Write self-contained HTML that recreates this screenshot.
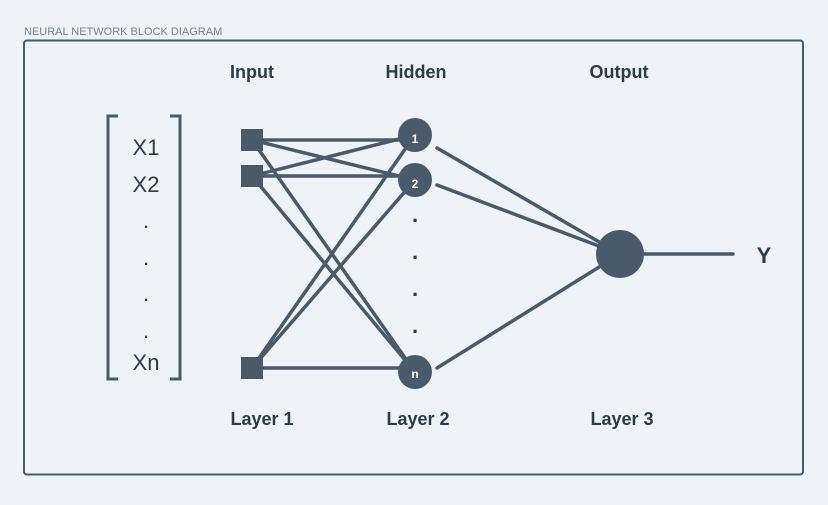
<!DOCTYPE html>
<html><head><style>
body{margin:0;background:#eff2f6;width:828px;height:500px;overflow:hidden}
</style></head><body>
<svg width="828" height="500" xmlns="http://www.w3.org/2000/svg" font-family="Liberation Sans, sans-serif">
<rect width="828" height="500" fill="#eff2f6"/>
<text x="24" y="35" font-size="11" fill="#7a8591">NEURAL NETWORK BLOCK DIAGRAM</text>
<rect x="24" y="40.5" width="779" height="434" rx="3" fill="none" stroke="#4a5a69" stroke-width="2"/>
<g font-weight="bold" font-size="18" fill="#2f3b47" text-anchor="middle">
<text x="252" y="78">Input</text><text x="416" y="78">Hidden</text><text x="619" y="78">Output</text>
<text x="262" y="425">Layer 1</text><text x="418" y="425">Layer 2</text><text x="622" y="425">Layer 3</text>
<text x="764" y="263" font-size="22">Y</text>
</g>
<g fill="none" stroke="#4a5a69" stroke-width="3">
<path d="M118 116H108V379H118M170 116H180V379H170"/>
</g>
<g font-size="22" fill="#2f3b47" text-anchor="middle">
<text x="146" y="155">X1</text><text x="146" y="192">X2</text>
<text x="146" y="228">.</text><text x="146" y="265">.</text><text x="146" y="301">.</text><text x="146" y="338">.</text>
<text x="146" y="370">Xn</text>
</g>
<g stroke="#4a5a69" stroke-width="3.5" stroke-linecap="round">
<line x1="252" y1="140" x2="415" y2="140"/><line x1="252" y1="140" x2="415" y2="180"/><line x1="252" y1="140" x2="415" y2="372"/>
<line x1="252" y1="176" x2="415" y2="135"/><line x1="252" y1="176" x2="415" y2="176"/><line x1="252" y1="176" x2="415" y2="372"/>
<line x1="252" y1="368" x2="415" y2="135"/><line x1="252" y1="368" x2="415" y2="180"/><line x1="252" y1="368" x2="415" y2="368"/>
<line x1="437" y1="148" x2="620" y2="254"/><line x1="437" y1="185" x2="620" y2="254"/><line x1="437" y1="368" x2="620" y2="254"/>
<line x1="620" y1="254" x2="733" y2="254"/>
</g>
<g fill="#4a5a69">
<rect x="241" y="129" width="22" height="22"/><rect x="241" y="165" width="22" height="22"/><rect x="241" y="357" width="22" height="22"/>
<circle cx="415" cy="135" r="17"/><circle cx="415" cy="180" r="17"/><circle cx="415" cy="372" r="17"/>
<circle cx="620" cy="254" r="24"/>
</g>
<g font-size="12" font-weight="bold" fill="#fff" text-anchor="middle">
<text x="415" y="143">1</text><text x="415" y="188">2</text><text x="415" y="378">n</text>
</g>
<g font-size="22" font-weight="bold" fill="#2f3b47" text-anchor="middle">
<text x="415" y="222">.</text><text x="415" y="259">.</text><text x="415" y="296">.</text><text x="415" y="333">.</text>
</g>
</svg>
</body></html>
